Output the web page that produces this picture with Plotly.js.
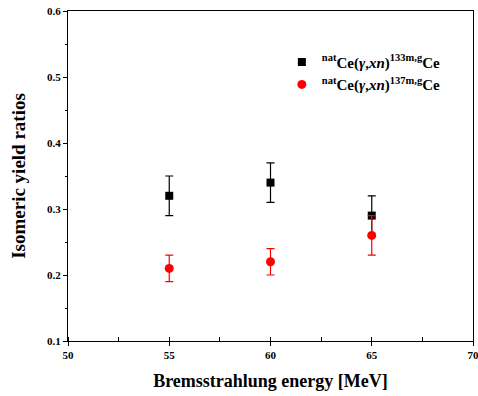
<!DOCTYPE html>
<html><head><meta charset="utf-8">
<script src="https://cdn.plot.ly/plotly-3.0.1.min.js"></script>
<style>html,body{margin:0;padding:0;background:#fff}</style>
</head><body><div id="chart" style="width:478px;height:396px"></div>
<script>
const energies = [55, 60, 65];
const ratio133 = [0.32, 0.34, 0.29];
const err133 = [0.03, 0.03, 0.03];
const ratio137 = [0.21, 0.22, 0.26];
const err137 = [0.02, 0.02, 0.03];
const name133 = '<sup>nat</sup>Ce(<i>γ</i>,<i>xn</i>)<sup>133m,g</sup>Ce';
const name137 = '<sup>nat</sup>Ce(<i>γ</i>,<i>xn</i>)<sup>137m,g</sup>Ce';

const serif = 'Liberation Serif, Times New Roman, serif';
const traces = [
  {x: energies, y: ratio133, name: name133, type: 'scatter', mode: 'markers',
   marker: {symbol: 'square', size: 8, color: '#000'},
   error_y: {type: 'data', array: err133, visible: true, color: '#000', thickness: 1.2, width: 4}},
  {x: energies, y: ratio137, name: name137, type: 'scatter', mode: 'markers',
   marker: {symbol: 'circle', size: 9, color: '#ff0000'},
   error_y: {type: 'data', array: err137, visible: true, color: '#ff0000', thickness: 1.2, width: 4}}
];
const layout = {
  width: 478, height: 396,
  margin: {l: 68, r: 5, t: 11, b: 55},
  paper_bgcolor: '#fff', plot_bgcolor: '#fff',
  font: {family: serif, color: '#000'},
  showlegend: true,
  legend: {x: 0.528, y: 0.895, xanchor: 'left', yanchor: 'top', bgcolor: 'rgba(0,0,0,0)',
           font: {family: serif, size: 15, weight: 'bold'}, tracegroupgap: 0, itemwidth: 30},
  xaxis: {range: [50, 70], dtick: 5, tick0: 50, showgrid: false, zeroline: false,
          showline: true, linecolor: '#000', linewidth: 1, mirror: true,
          ticks: 'outside', ticklen: 4, tickcolor: '#000', ticklabeloverflow: 'allow',
          minor: {dtick: 2.5, ticks: 'inside', ticklen: 4, tickcolor: '#000'},
          tickfont: {family: serif, size: 11, weight: 'bold'},
          title: {text: 'Bremsstrahlung energy [MeV]', font: {family: serif, size: 18, weight: 'bold'}, standoff: 14}},
  yaxis: {range: [0.1, 0.6], dtick: 0.1, tick0: 0.1, showgrid: false, zeroline: false,
          showline: true, linecolor: '#000', linewidth: 1, mirror: true,
          ticks: 'outside', ticklen: 4, tickcolor: '#000', tickformat: '.1f', ticklabeloverflow: 'allow',
          minor: {dtick: 0.05, ticks: 'outside', ticklen: 2, tickcolor: '#000'},
          tickfont: {family: serif, size: 11, weight: 'bold'},
          title: {text: 'Isomeric yield ratios', font: {family: serif, size: 19, weight: 'bold'}, standoff: 16}}
};
Plotly.newPlot('chart', traces, layout, {displayModeBar: false, staticPlot: true});
</script></body></html>
